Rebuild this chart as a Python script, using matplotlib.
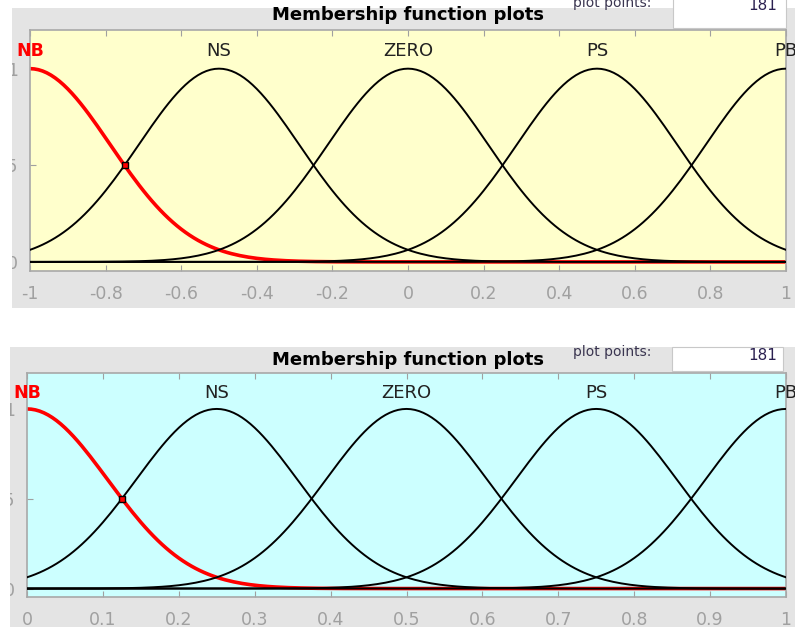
import numpy as np
import matplotlib
matplotlib.use('Agg')
import matplotlib.pyplot as plt
from matplotlib.patches import Rectangle

# membership function names and gaussmf parameters for both inputs
mf_names = ['NB', 'NS', 'ZERO', 'PS', 'PB']
centers_1 = [-1.0, -0.5, 0.0, 0.5, 1.0]
sigma_1 = 0.2123
centers_2 = [0.0, 0.25, 0.5, 0.75, 1.0]
sigma_2 = 0.1062
range_1 = [-1, 1]
range_2 = [0, 1]
xticks_1 = [-1, -0.8, -0.6, -0.4, -0.2, 0, 0.2, 0.4, 0.6, 0.8, 1]
xticks_2 = [0, 0.1, 0.2, 0.3, 0.4, 0.5, 0.6, 0.7, 0.8, 0.9, 1]
yticks = [0, 0.5, 1]
ytick_labels = ['0', '0.5', '1']
n_points = 181

gray = '#e4e4e4'
W, H = 795, 627

fig = plt.figure(figsize=(7.95, 6.27), dpi=100)
fig.patch.set_facecolor('white')


def px(x0, y0, x1, y1):
    # pixel box (top-left origin) -> figure fraction rect
    return [x0 / W, 1 - y1 / H, (x1 - x0) / W, (y1 - y0) / H]


def gaussmf(x, c, s):
    return np.exp(-(x - c) ** 2 / (2 * s ** 2))


def panel(gbox, abox, wbox, title_y, pp_y, bg, centers, sigma, xr, xticks, white_left):
    r = px(*gbox)
    fig.add_artist(Rectangle((r[0], r[1]), r[2], r[3], transform=fig.transFigure,
                             facecolor=gray, edgecolor='none', zorder=-5))
    r = px(*wbox)
    fig.add_artist(Rectangle((r[0], r[1]), r[2], r[3], transform=fig.transFigure,
                             facecolor='white', edgecolor='#c8c8c8', lw=0.8, zorder=-4))
    fig.text(408 / W, 1 - title_y / H, 'Membership function plots', ha='center', va='center',
             fontsize=13, fontweight='bold', family='DejaVu Sans')
    fig.text(612 / W, 1 - pp_y / H, 'plot points:', ha='center', va='center',
             fontsize=10, color='#3a3550', family='DejaVu Sans')
    fig.text(777 / W, 1 - (pp_y + 3) / H, str(n_points), ha='right', va='center',
             fontsize=11, color='#2a2050', family='DejaVu Sans')

    ax = fig.add_axes(px(*abox))
    ax.set_facecolor(bg)
    x = np.linspace(xr[0], xr[1], n_points)
    for i, (name, c) in enumerate(zip(mf_names, centers)):
        y = gaussmf(x, c, sigma)
        if i == 0:
            ax.plot(x, y, color='red', lw=2.6, zorder=2, solid_capstyle='butt')
            ax.text(c, 1.09, name, ha='center', va='center', color='red',
                    fontsize=12.5, fontweight='bold', family='DejaVu Sans', clip_on=False)
        else:
            ax.plot(x, y, color='black', lw=1.4, zorder=3)
            ax.text(c, 1.09, name, ha='center', va='center', color='#222222',
                    fontsize=13, family='DejaVu Sans', clip_on=False)
    # selected point on the red curve
    xm = centers[0] + (centers[1] - centers[0]) / 2
    ax.plot([xm], [gaussmf(xm, centers[0], sigma)], 's', ms=5, mfc='red', mec='black',
            mew=1, zorder=4)
    ax.set_xlim(xr)
    ax.set_ylim(-0.047, 1.2)
    ax.set_xticks(xticks)
    ax.set_xticklabels(['%g' % t for t in xticks])
    ax.set_yticks(yticks)
    ax.set_yticklabels(ytick_labels)
    ax.tick_params(direction='in', length=4, width=0.8, color='#a0a0a0',
                   labelcolor='#a0a0a0', labelsize=12.5, top=True, right=False)
    ax.tick_params(axis='x', pad=10)
    ax.tick_params(axis='y', pad=8.5)
    for lab in ax.get_xticklabels() + ax.get_yticklabels():
        lab.set_family('DejaVu Sans')
    for s in ax.spines.values():
        s.set_color('#a8a8a8')
        s.set_linewidth(1.2)
    # white strip left of the gray panel hides the cut-off y labels
    r = px(0, gbox[1], white_left, gbox[3])
    fig.add_artist(Rectangle((r[0], r[1]), r[2], r[3], transform=fig.transFigure,
                             facecolor='white', edgecolor='none', zorder=10))
    return ax


panel((12, 8, 795, 308), (30, 30, 786, 271), (673, -5, 786, 28), 15, 3, '#ffffcc',
      centers_1, sigma_1, range_1, xticks_1, 12)
panel((10, 347, 795, 627), (27, 373, 786, 597), (672, 347, 783, 371), 360, 352, '#ccffff',
      centers_2, sigma_2, range_2, xticks_2, 10)

fig.savefig('out.png', dpi=100)
